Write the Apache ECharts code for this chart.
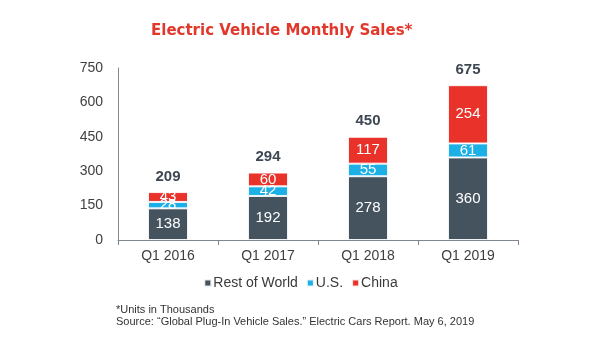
<!DOCTYPE html>
<html><head><meta charset="utf-8">
<script src="https://cdn.jsdelivr.net/npm/echarts@6/dist/echarts.min.js"></script>
<style>html,body{margin:0;padding:0;background:#fff}#c{width:601px;height:338px}</style>
</head><body><div id="c"></div>
<script>
var categories = ['Q1 2016', 'Q1 2017', 'Q1 2018', 'Q1 2019'];
var restOfWorld = [138, 192, 278, 360];
var us = [28, 42, 55, 61];
var china = [43, 60, 117, 254];
var yTicks = [0, 150, 300, 450, 600, 750];
var totals = categories.map(function (c, i) { return restOfWorld[i] + us[i] + china[i]; });

var chart = echarts.init(document.getElementById('c'));
var font = 'Liberation Sans, Arial, sans-serif';
var segLabel = { show: true, position: 'inside', color: '#fff', fontSize: 15, fontFamily: font };
var border = { borderColor: 'rgba(255,255,255,0.85)', borderWidth: 1 };
chart.setOption({
  animation: false,
  title: {
    text: 'Electric Vehicle Monthly Sales*',
    left: 146, top: 19,
    textStyle: { color: '#e2372b', fontSize: 15, fontWeight: 'bold', fontFamily: 'DejaVu Sans, sans-serif' }
  },
  grid: { left: 118, right: 83, top: 68, bottom: 98, containLabel: false },
  legend: {
    data: ['Rest of World', 'U.S.', 'China'],
    top: 271, left: 'center',
    itemWidth: 7, itemHeight: 7, itemGap: 8,
    icon: 'rect',
    textStyle: { color: '#3a3a3a', fontSize: 14, fontFamily: font, padding: [0, 0, 0, -3] }
  },
  graphic: [
    { type: 'text', left: 116, top: 304, style: { text: '*Units in Thousands', fill: '#333', font: '11px ' + font } },
    { type: 'text', left: 116, top: 316, style: { text: 'Source: \u201cGlobal Plug-In Vehicle Sales.\u201d Electric Cars Report. May 6, 2019', fill: '#333', font: '11px ' + font } }
  ],
  xAxis: {
    type: 'category', data: categories,
    axisLine: { lineStyle: { color: '#7f8790', width: 1 } },
    axisTick: { show: true, length: 5, lineStyle: { color: '#7f8790' } },
    axisLabel: { color: '#404040', fontSize: 14, fontFamily: font, margin: 9 }
  },
  yAxis: {
    type: 'value', min: yTicks[0], max: yTicks[yTicks.length - 1], interval: 150,
    splitLine: { show: false },
    axisLine: { show: true, lineStyle: { color: '#7f8790' } },
    axisTick: { show: false },
    axisLabel: { color: '#404040', fontSize: 14, fontFamily: font, margin: 15 }
  },
  series: [
    { name: 'Rest of World', type: 'bar', stack: 's', barWidth: 40, data: restOfWorld,
      itemStyle: Object.assign({ color: '#44535e' }, border), label: segLabel },
    { name: 'U.S.', type: 'bar', stack: 's', data: us,
      itemStyle: Object.assign({ color: '#1cb0e6' }, border), label: segLabel },
    { name: 'China', type: 'bar', stack: 's', data: china,
      itemStyle: Object.assign({ color: '#e8322a' }, border), label: segLabel },
    { name: 'Total', type: 'bar', stack: 's', data: totals.map(function () { return 0; }),
      itemStyle: { color: 'transparent' },
      label: { show: true, position: 'top', distance: 8, color: '#3d4853', fontSize: 15, fontWeight: 'bold', fontFamily: font,
        formatter: function (p) { return totals[p.dataIndex]; } } }
  ]
});
</script></body></html>
